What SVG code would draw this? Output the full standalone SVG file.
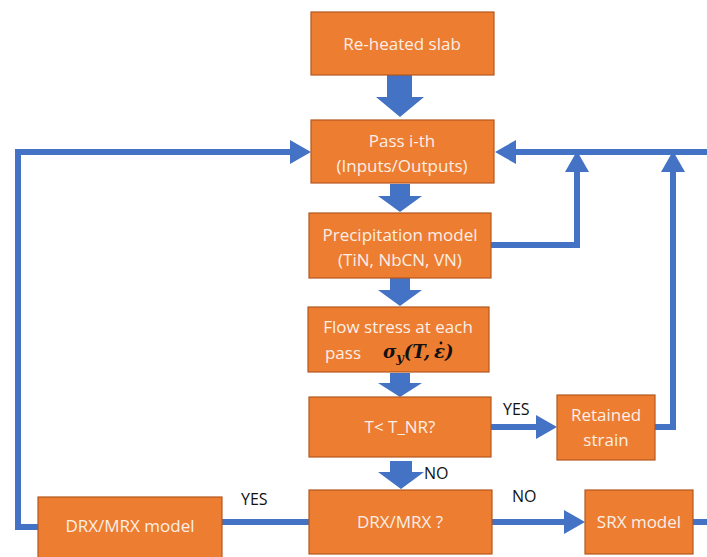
<svg xmlns="http://www.w3.org/2000/svg" width="707" height="557" viewBox="0 0 707 557">
<style>
.box{fill:#ED7D31;stroke:#B4581F;stroke-width:1.2}
.t{font-family:"Open Sans","Liberation Sans",sans-serif;font-size:17px;fill:#FBEFE6;text-anchor:middle}
.lbl{font-family:"Open Sans","Liberation Sans",sans-serif;font-size:16px;fill:#111}
.ln{fill:none;stroke:#4472C4;stroke-width:6}
.blk{fill:#4472C4}
.m{font-family:"DejaVu Serif","Liberation Serif",serif;font-weight:bold;font-style:italic;font-size:18px;fill:#111}
</style>
<defs>
<marker id="ah" markerUnits="userSpaceOnUse" markerWidth="22" markerHeight="24" refX="0" refY="12" orient="auto">
<path d="M0,0 L21,12 L0,24 Z" fill="#4472C4"/>
</marker>
</defs>
<g id="connectors">
<polygon class="blk" points="387,75 412,75 412,97 424,97 400,117 376,97 387,97"/>
<polygon class="blk" points="390,184 410,184 410,196 422,196 400,212 378,196 390,196"/>
<polygon class="blk" points="390,278 410,278 410,290 422,290 400,306 378,290 390,290"/>
<polygon class="blk" points="390,373 410,373 410,383 422,383 400,397 378,383 390,383"/>
<polygon class="blk" points="390,461 412,461 412,472 424,472 401,489 378,472 390,472"/>
<polyline class="ln" points="38,527 18,527 18,152 290,152" marker-end="url(#ah)"/>
<line class="ln" x1="707" y1="152" x2="516" y2="152" marker-end="url(#ah)"/>
<polyline class="ln" points="491,245 577,245 577,172" marker-end="url(#ah)"/>
<polyline class="ln" points="655,427 673,427 673,172" marker-end="url(#ah)"/>
<line class="ln" x1="491" y1="427" x2="536" y2="427" marker-end="url(#ah)"/>
<line class="ln" x1="222" y1="522" x2="309" y2="522"/>
<line class="ln" x1="492" y1="522" x2="564" y2="522" marker-end="url(#ah)"/>
<line class="ln" x1="693" y1="522" x2="707" y2="522"/>
<text class="lbl" x="503" y="415">YES</text>
<text class="lbl" x="424" y="479">NO</text>
<text class="lbl" x="241" y="505">YES</text>
<text class="lbl" x="512" y="502">NO</text>
</g>
<g id="reheated"><rect class="box" x="311" y="12" width="183" height="63"/><text class="t" x="402" y="50">Re-heated slab</text></g>
<g id="pass"><rect class="box" x="311" y="120" width="183" height="63"/><text class="t" x="402" y="147">Pass i-th</text><text class="t" x="402" y="172">(Inputs/Outputs)</text></g>
<g id="precip"><rect class="box" x="309" y="213" width="182" height="65"/><text class="t" x="400" y="241">Precipitation model</text><text class="t" x="400" y="266">(TiN, NbCN, VN)</text></g>
<g id="flow"><rect class="box" x="308" y="307" width="181" height="65"/><text class="t" x="398" y="333">Flow stress at each</text><text class="t" x="343" y="359">pass</text><text class="m" x="383" y="358">σ<tspan font-size="13" dy="4">y</tspan><tspan dy="-4">(T,</tspan><tspan dx="4">ε</tspan>)</text><circle cx="441" cy="343" r="1.4" fill="#111"/></g>
<g id="tnr"><rect class="box" x="309" y="397" width="182" height="60"/><text class="t" x="400" y="433">T&lt; T_NR?</text></g>
<g id="retained"><rect class="box" x="557" y="395" width="98" height="65"/><text class="t" x="606" y="421">Retained</text><text class="t" x="606" y="446">strain</text></g>
<g id="drxq"><rect class="box" x="309" y="490" width="183" height="64"/><text class="t" x="400" y="528">DRX/MRX ?</text></g>
<g id="srx"><rect class="box" x="585" y="490" width="108" height="64"/><text class="t" x="639" y="528">SRX model</text></g>
<g id="drxmodel"><rect class="box" x="38" y="497" width="184" height="64"/><text class="t" x="130" y="532">DRX/MRX model</text></g>
</svg>
